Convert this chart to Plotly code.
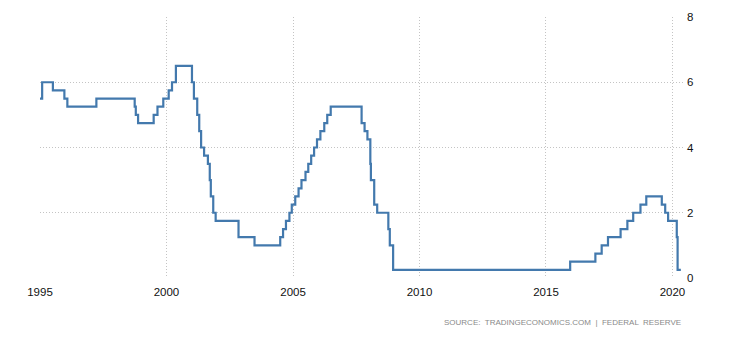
import plotly.graph_objects as go

# Federal funds target rate (upper bound), change dates and new level
change_dates = [
    "1995-01-01", "1995-02-01", "1995-07-06", "1995-12-19", "1996-01-31",
    "1997-03-25", "1998-09-29", "1998-10-15", "1998-11-17", "1999-06-30",
    "1999-08-24", "1999-11-16", "2000-02-02", "2000-03-21", "2000-05-16",
    "2001-01-03", "2001-01-31", "2001-03-20", "2001-04-18", "2001-05-15",
    "2001-06-27", "2001-08-21", "2001-09-17", "2001-10-02", "2001-11-06",
    "2001-12-11", "2002-11-06", "2003-06-25", "2004-06-30", "2004-08-10",
    "2004-09-21", "2004-11-10", "2004-12-14", "2005-02-02", "2005-03-22",
    "2005-05-03", "2005-06-30", "2005-08-09", "2005-09-20", "2005-11-01",
    "2005-12-13", "2006-01-31", "2006-03-28", "2006-05-10", "2006-06-29",
    "2007-09-18", "2007-10-31", "2007-12-11", "2008-01-22", "2008-01-30",
    "2008-03-18", "2008-04-30", "2008-10-08", "2008-10-29", "2008-12-16",
    "2015-12-16", "2016-12-14", "2017-03-15", "2017-06-14", "2017-12-13",
    "2018-03-21", "2018-06-13", "2018-09-26", "2018-12-19", "2019-07-31",
    "2019-09-18", "2019-10-30", "2020-03-03", "2020-03-15", "2020-05-01",
]
rate_levels = [
    5.50, 6.00, 5.75, 5.50, 5.25,
    5.50, 5.25, 5.00, 4.75, 5.00,
    5.25, 5.50, 5.75, 6.00, 6.50,
    6.00, 5.50, 5.00, 4.50, 4.00,
    3.75, 3.50, 3.00, 2.50, 2.00,
    1.75, 1.25, 1.00, 1.25, 1.50,
    1.75, 2.00, 2.25, 2.50, 2.75,
    3.00, 3.25, 3.50, 3.75, 4.00,
    4.25, 4.50, 4.75, 5.00, 5.25,
    4.75, 4.50, 4.25, 3.50, 3.00,
    2.25, 2.00, 1.50, 1.00, 0.25,
    0.50, 0.75, 1.00, 1.25, 1.50,
    1.75, 2.00, 2.25, 2.50, 2.25,
    2.00, 1.75, 1.25, 0.25, 0.25,
]

x_ticks = ["1995-01-01", "2000-01-01", "2005-01-01", "2010-01-01", "2015-01-01", "2020-01-01"]
x_tick_labels = ["1995", "2000", "2005", "2010", "2015", "2020"]
y_ticks = [0, 2, 4, 6, 8]

fig = go.Figure()
fig.add_trace(go.Scatter(
    x=change_dates, y=rate_levels, mode="lines",
    line=dict(color="#4379ad", width=2.2, shape="hv"),
    hoverinfo="x+y", showlegend=False,
))

fig.update_layout(
    width=743, height=337,
    margin=dict(l=40, r=60, t=17, b=59),
    paper_bgcolor="white", plot_bgcolor="white",
    font=dict(family="Liberation Sans, Arial, sans-serif", size=11.5, color="#111"),
    xaxis=dict(
        type="date", range=["1995-01-01", "2020-06-01"],
        tickvals=x_ticks, ticktext=x_tick_labels,
        showgrid=True, gridcolor="#c4c4c4", griddash="1px,2px", gridwidth=1,
        zeroline=False, showline=False, ticks="", ticklabelstandoff=5,
    ),
    yaxis=dict(
        side="right", range=[0, 8], tickvals=y_ticks,
        showgrid=True, gridcolor="#c4c4c4", griddash="1px,2px", gridwidth=1,
        zeroline=False, showline=False, ticks="", ticklabelstandoff=3,
    ),
    annotations=[dict(
        text="SOURCE:  TRADINGECONOMICS.COM  |  FEDERAL  RESERVE",
        xref="paper", yref="paper", x=1.0, y=-0.172,
        xanchor="right", yanchor="middle", showarrow=False,
        font=dict(size=8, color="#8a8a8a"),
    )],
)

fig.write_html("out.html")
